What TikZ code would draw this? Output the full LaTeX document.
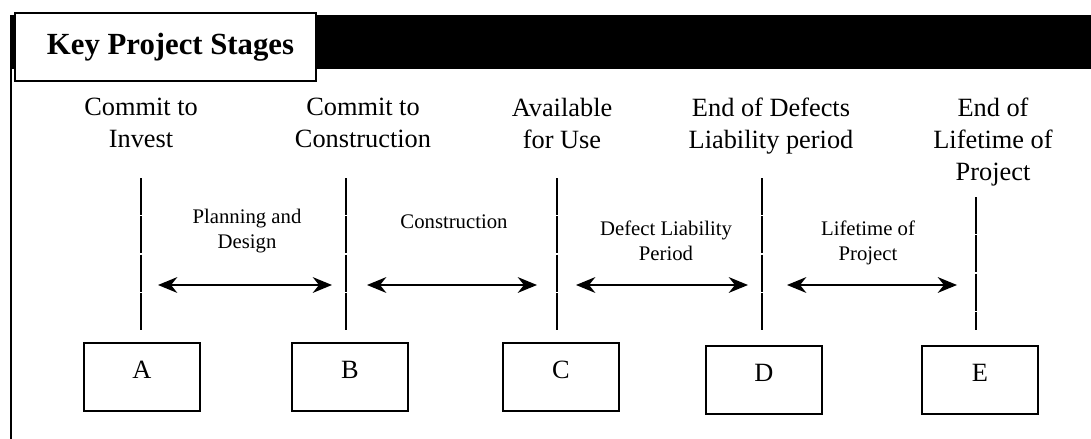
\documentclass[tikz,border=0pt]{standalone}
\usepackage{fontspec}
\setmainfont{Liberation Serif}
\usetikzlibrary{arrows.meta,positioning}

\begin{document}
\begin{tikzpicture}[
    x=0.02cm, y=-0.02cm,
    stage/.style={align=center, font=\fontsize{15}{18}\selectfont},
    phase/.style={align=center, font=\fontsize{11.8}{14}\selectfont},
    letterbox/.style={draw, line width=0.9pt, minimum width=2.32cm, minimum height=1.36cm, text depth=0.3cm, font=\fontsize{15}{18}\selectfont},
    marker/.style={line width=0.9pt, dash pattern=on 21pt off 0.8pt},
    span/.style={{Stealth[length=11pt,width=9pt]}-{Stealth[length=11pt,width=9pt]}, line width=0.9pt},
    >=Stealth
]
\useasboundingbox (0,0) rectangle (1091,439);
% header band and title
\fill (10,15) rectangle (1091,69);
\draw[line width=0.9pt] (11,69) -- (11,439);
\node[draw, fill=white, line width=0.8pt, minimum width=6.02cm, minimum height=1.36cm,
      font=\fontsize{17.5}{20}\selectfont\bfseries] (title) at (165.5,47) {\hspace{0.2cm}Key Project Stages};

% milestone labels
\node[stage, anchor=north] (sA) at (141,92) {Commit to\\Invest};
\node[stage, anchor=north] (sB) at (363,92) {Commit to\\Construction};
\node[stage, anchor=north] (sC) at (562,92) {Available\\for Use};
\node[stage, anchor=north] (sD) at (771,92) {End of Defects\\Liability period};
\node[stage, anchor=north] (sE) at (993,92) {End of\\Lifetime of\\Project};

% milestone boxes
\node[letterbox] (A) at (142,377) {A};
\node[letterbox] (B) at (350,377) {B};
\node[letterbox] (C) at (561,377) {C};
\node[letterbox] (D) at (764,380) {D};
\node[letterbox] (E) at (980,380) {E};

% marker lines
\coordinate (tA) at (141,178); \coordinate (bA) at (141,330);
\coordinate (tB) at (346,178); \coordinate (bB) at (346,330);
\coordinate (tC) at (557,178); \coordinate (bC) at (557,330);
\coordinate (tD) at (762,178); \coordinate (bD) at (762,330);
\coordinate (tE) at (976,197); \coordinate (bE) at (976,330);
\foreach \m in {A,B,C,D,E}
  \draw[marker] (t\m) -- (b\m);

% phases
\coordinate (p1l) at (158,285); \coordinate (p1r) at (332,285);
\coordinate (p2l) at (367,285); \coordinate (p2r) at (537,285);
\coordinate (p3l) at (576,285); \coordinate (p3r) at (748,285);
\coordinate (p4l) at (787,285); \coordinate (p4r) at (957,285);
\draw[span] (p1l) -- (p1r);
\draw[span] (p2l) -- (p2r);
\draw[span] (p3l) -- (p3r);
\draw[span] (p4l) -- (p4r);

\node[phase] (ph1) at (247,231) {Planning and\\Design};
\node[phase] (ph2) at (454,222) {Construction};
\node[phase] (ph3) at (666,241) {Defect Liability\\Period};
\node[phase] (ph4) at (868,243) {Lifetime of\\Project};
\end{tikzpicture}
\end{document}
